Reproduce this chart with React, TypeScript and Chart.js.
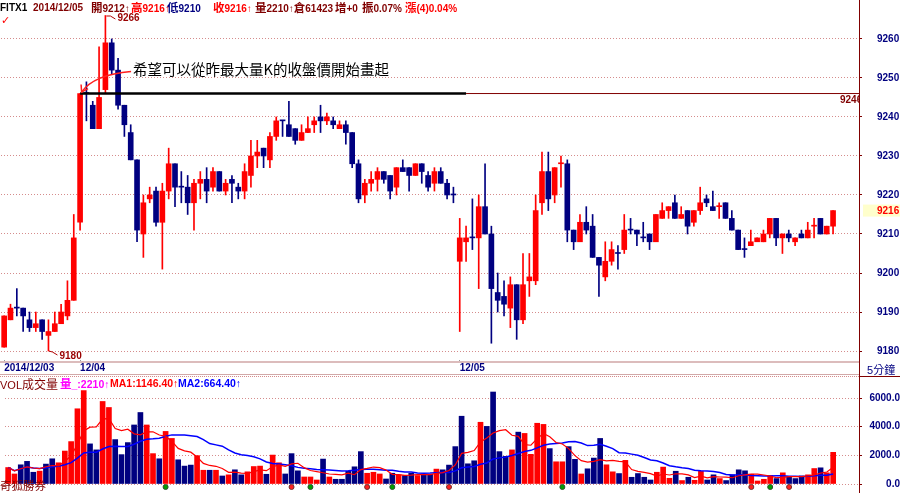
import React, { useEffect, useRef } from 'react';
import { Chart, registerables } from 'chart.js';

Chart.register(...registerables);

// ---------------- data ----------------
const dayStarts = [0, 12, 72];
const dayLabels = ['2014/12/03', '12/04', '12/05'];

const opens = [
  9181, 9188, 9191, 9191, 9188, 9186, 9188, 9184, 9185, 9187,
  9189, 9193, 9213, 9246, 9243, 9237, 9247, 9259, 9252, 9243,
  9236, 9229, 9210, 9219, 9221, 9213, 9221, 9228, 9222, 9222,
  9218, 9223, 9224, 9222, 9226, 9221, 9224, 9222, 9221, 9225,
  9230, 9232, 9229, 9235, 9239, 9238, 9237, 9234, 9236, 9238,
  9240, 9239, 9239, 9237, 9238, 9236, 9228, 9220, 9223, 9224,
  9226, 9225, 9222, 9227, 9227, 9225, 9228, 9225, 9223, 9226,
  9223, 9220, 9203, 9208, 9209, 9209, 9217, 9210, 9195, 9194,
  9191, 9197, 9188, 9198, 9198, 9218, 9226, 9220, 9228, 9228,
  9211, 9208, 9213, 9212, 9204, 9199, 9203, 9205, 9206, 9211,
  9211, 9209, 9210, 9208, 9214, 9216, 9218, 9214, 9216, 9213,
  9216, 9219, 9217, 9217, 9218, 9214, 9211, 9206, 9207, 9208,
  9208, 9210, 9214, 9209, 9210, 9208, 9210, 9209, 9212, 9214,
  9210, 9212,
];
const highs = [
  9189, 9192, 9196, 9191, 9190, 9190, 9188, 9188, 9190, 9192,
  9198, 9215, 9246, 9249, 9244, 9258, 9266, 9260, 9255, 9243,
  9238, 9229, 9220, 9222, 9222, 9223, 9232, 9228, 9226, 9225,
  9224, 9226, 9227, 9227, 9226, 9224, 9225, 9223, 9228, 9234,
  9234, 9232, 9236, 9240, 9239, 9244, 9237, 9238, 9240, 9240,
  9243, 9241, 9240, 9239, 9239, 9236, 9229, 9224, 9226, 9227,
  9226, 9225, 9227, 9229, 9227, 9228, 9228, 9226, 9227, 9227,
  9224, 9222, 9214, 9212, 9219, 9220, 9228, 9212, 9200, 9198,
  9199, 9197, 9205, 9205, 9220, 9231, 9231, 9227, 9230, 9229,
  9211, 9215, 9217, 9215, 9204, 9208, 9208, 9207, 9215, 9214,
  9211, 9213, 9210, 9215, 9218, 9217, 9220, 9217, 9216, 9216,
  9222, 9220, 9221, 9218, 9218, 9216, 9211, 9209, 9211, 9209,
  9211, 9214, 9214, 9210, 9211, 9209, 9211, 9213, 9214, 9214,
  9212, 9216,
];
const lows = [
  9181, 9188, 9189, 9185, 9185, 9185, 9183, 9180, 9185, 9187,
  9188, 9193, 9211, 9239, 9237, 9237, 9246, 9251, 9242, 9235,
  9229, 9208, 9204, 9218, 9212, 9201, 9219, 9217, 9218, 9215,
  9211, 9219, 9218, 9221, 9221, 9220, 9218, 9219, 9219, 9222,
  9227, 9227, 9227, 9234, 9235, 9235, 9233, 9234, 9236, 9236,
  9236, 9238, 9237, 9237, 9233, 9227, 9218, 9218, 9221, 9221,
  9223, 9219, 9220, 9226, 9221, 9225, 9223, 9221, 9221, 9223,
  9219, 9218, 9185, 9203, 9206, 9196, 9210, 9182, 9190, 9189,
  9186, 9183, 9187, 9194, 9197, 9215, 9216, 9218, 9222, 9208,
  9206, 9208, 9210, 9204, 9194, 9198, 9202, 9201, 9205, 9210,
  9207, 9208, 9206, 9208, 9214, 9214, 9214, 9214, 9210, 9212,
  9215, 9217, 9216, 9214, 9214, 9211, 9206, 9204, 9207, 9208,
  9208, 9209, 9207, 9205, 9208, 9207, 9209, 9209, 9209, 9210,
  9210, 9210,
];
const closes = [
  9189, 9191, 9191, 9189, 9186, 9187, 9185, 9185, 9187, 9190,
  9193, 9209, 9246, 9246, 9237, 9245, 9259, 9252, 9243, 9238,
  9229, 9211, 9218, 9220, 9213, 9221, 9228, 9222, 9222, 9218,
  9223, 9224, 9221, 9226, 9221, 9223, 9223, 9221, 9226, 9230,
  9231, 9230, 9235, 9239, 9239, 9235, 9234, 9236, 9237, 9239,
  9239, 9240, 9238, 9238, 9236, 9228, 9219, 9223, 9224, 9226,
  9224, 9221, 9227, 9226, 9225, 9228, 9226, 9222, 9226, 9223,
  9220, 9220, 9209, 9209, 9209, 9217, 9210, 9196, 9193, 9192,
  9197, 9188, 9197, 9199, 9216, 9226, 9219, 9227, 9228, 9211,
  9208, 9213, 9211, 9204, 9202, 9203, 9206, 9205, 9211, 9211,
  9210, 9209, 9208, 9215, 9216, 9217, 9214, 9215, 9212, 9216,
  9218, 9218, 9216, 9217, 9214, 9211, 9206, 9206, 9208, 9209,
  9210, 9214, 9209, 9210, 9209, 9209, 9209, 9211, 9212, 9210,
  9212, 9216,
];
const volumes = [
  1150, 700, 1340, 1580, 820, 900, 1390, 1760, 1480, 2300,
  2960, 5250, 6520, 2800, 2380, 5760, 5340, 3100, 2050, 2890,
  4120, 4990, 4120, 2120, 1760, 3670, 3180, 1690, 1250, 1320,
  1980, 960, 960, 960, 560, 640, 990, 640, 850, 1220,
  1250, 680, 2020, 1480, 700, 2120, 920, 490, 490, 280,
  1740, 490, 330, 330, 890, 1200, 2260, 750, 820, 700,
  350, 750, 640, 590, 750, 590, 680, 680, 1040, 990,
  1320, 2610, 4730, 1410, 1620, 4310, 4020, 6420, 2260, 1930,
  2380, 3620, 3530, 2070, 4240, 4160, 2470, 1550, 1550, 2610,
  1720, 700, 1060, 1810, 3180, 1340, 850, 730, 1650, 470,
  730, 470, 280, 820, 1180, 400, 890, 240, 470, 260,
  890, 280, 640, 380, 240, 640, 990, 920, 680, 210,
  330, 590, 380, 780, 490, 380, 560, 640, 1080, 1130,
  780, 2210,
];
const priceTicks = [9180, 9190, 9200, 9210, 9220, 9230, 9240, 9250, 9260];
const volTicks = [0, 2000, 4000, 6000];
const greenMarks = [25, 48, 61, 88, 121];
const redMarks = [45, 57, 70, 118, 124];
const annotText = '希望可以從昨最大量K的收盤價開始畫起';

// ---------------- layout constants ----------------
const X_MIN = -0.5;
const X_MAX = 135.1;
const Y_MIN = 9177.7;
const Y_MAX = 9266.9;
const V_MAX = 6700;
const UP = '#ff0000';
const DOWN = '#000080';
const DARKRED = '#800000';
const GRID = '#d58c8c';
const LATIN = '"Liberation Sans", Arial, "Noto Sans CJK TC", sans-serif';
const CJK = '"Noto Sans CJK TC", "Liberation Sans", sans-serif';

function movingAvg(vals: number[], n: number) {
  return vals.map((_, i) => {
    const s = Math.max(0, i - n + 1);
    let sum = 0;
    for (let k = s; k <= i; k++) sum += vals[k];
    return sum / (i - s + 1);
  });
}

const isCJK = (ch: string) => /[\u3000-\u9fff\uff00-\uffef]/.test(ch);

export default function App() {
  const priceRef = useRef<HTMLCanvasElement>(null);
  const volRef = useRef<HTMLCanvasElement>(null);

  useEffect(() => {
    const N = closes.length;
    const idx = closes.map((_, i) => i);
    const isUp = (i: number) =>
      closes[i] > opens[i] || (closes[i] === opens[i] && i > 0 && closes[i] > closes[i - 1]);
    const candleColors = idx.map((i) => (isUp(i) ? UP : DOWN));
    const volColors = idx.map((i) =>
      (i === 0 ? closes[0] > opens[0] : closes[i] > closes[i - 1]) ? UP : DOWN
    );

    // reference candle: largest volume of previous day (12/04)
    let refIdx = dayStarts[1];
    for (let i = dayStarts[1]; i < dayStarts[2]; i++) if (volumes[i] > volumes[refIdx]) refIdx = i;
    const refPrice = closes[refIdx];
    const refEnd = dayStarts[2] + 1;

    const annotPlugin = {
      id: 'annot',
      afterDraw(chart: any) {
        const { ctx, chartArea } = chart;
        const xs = chart.scales.x;
        const ys = chart.scales.y;
        ctx.save();
        ctx.textBaseline = 'middle';
        ctx.textAlign = 'left';
        // high label
        let hiIdx = 0;
        highs.forEach((h, i) => { if (h > highs[hiIdx]) hiIdx = i; });
        const hx = xs.getPixelForValue(hiIdx);
        const hy = ys.getPixelForValue(highs[hiIdx]);
        ctx.strokeStyle = '#b00000';
        ctx.lineWidth = 1;
        ctx.beginPath();
        ctx.moveTo(hx + 1, hy + 0.5);
        ctx.lineTo(hx + 5, hy + 0.5);
        ctx.lineTo(hx + 10, hy + 3.5);
        ctx.stroke();
        ctx.fillStyle = '#990000';
        ctx.font = `bold 10px ${LATIN}`;
        ctx.fillText(String(highs[hiIdx]), hx + 12, hy + 3);
        // low label
        let loIdx = 0;
        lows.forEach((l, i) => { if (l < lows[loIdx]) loIdx = i; });
        const lx = xs.getPixelForValue(loIdx);
        const ly = ys.getPixelForValue(lows[loIdx]);
        ctx.beginPath();
        ctx.moveTo(lx + 0.5, ly);
        ctx.lineTo(lx + 4, ly + 1);
        ctx.lineTo(lx + 9, ly + 4);
        ctx.stroke();
        ctx.fillText(String(lows[loIdx]), lx + 11, ly + 5);
        // reference line label (clipped at plot edge)
        const refX = xs.getPixelForValue(refIdx);
        const refY = ys.getPixelForValue(refPrice);
        ctx.save();
        ctx.beginPath();
        ctx.rect(chartArea.left, chartArea.top, chartArea.right - chartArea.left, chartArea.bottom - chartArea.top);
        ctx.clip();
        ctx.fillStyle = DARKRED;
        ctx.fillText(String(refPrice), chartArea.right - 19, refY + 7);
        ctx.restore();
        // annotation text + arrow
        ctx.fillStyle = '#000000';
        ctx.font = `14.5px ${CJK}`;
        ctx.fillText(annotText, refX + 53, refY - 24);
        ctx.strokeStyle = '#ff2020';
        ctx.lineWidth = 1.5;
        ctx.beginPath();
        ctx.moveTo(refX + 51, refY - 22);
        ctx.quadraticCurveTo(refX + 14, refY - 19, refX + 1.5, refY - 1.5);
        ctx.stroke();
        ctx.beginPath();
        ctx.moveTo(refX + 1, refY - 9);
        ctx.lineTo(refX + 1.5, refY - 1.5);
        ctx.lineTo(refX + 8, refY - 5);
        ctx.stroke();
        // current price marker on axis
        const last = closes[N - 1];
        const cy = ys.getPixelForValue(last);
        ctx.fillStyle = '#ffffcc';
        ctx.fillRect(chartArea.right + 4, cy - 6, 40, 12);
        ctx.fillStyle = UP;
        ctx.font = `bold 10px ${LATIN}`;
        ctx.fillText(String(last), chartArea.right + 18, cy + 0.5);
        ctx.restore();
      },
    };

    const pc = new Chart(priceRef.current as HTMLCanvasElement, {
      type: 'bar',
      data: {
        datasets: [
          {
            type: 'line',
            data: [{ x: refIdx, y: refPrice }, { x: refEnd, y: refPrice }],
            borderColor: '#000000',
            borderWidth: 2.5,
            pointRadius: 0,
          } as any,
          {
            type: 'line',
            data: [{ x: refEnd, y: refPrice }, { x: X_MAX, y: refPrice }],
            borderColor: DARKRED,
            borderWidth: 1,
            pointRadius: 0,
          } as any,
          {
            type: 'bar',
            data: idx.map((i) => ({ x: i, y: [opens[i], closes[i]] })),
            backgroundColor: candleColors,
            barThickness: 5,
            minBarLength: 1,
            grouped: false,
            borderWidth: 0,
          } as any,
          {
            type: 'bar',
            data: idx.map((i) => ({ x: i, y: [lows[i], highs[i]] })),
            backgroundColor: candleColors,
            barThickness: 1,
            grouped: false,
            borderWidth: 0,
          } as any,
        ],
      },
      options: {
        animation: false,
        responsive: false,
        devicePixelRatio: 1,
        layout: { padding: { top: 12, left: 1, right: 0, bottom: 0 } },
        plugins: { legend: { display: false }, tooltip: { enabled: false } },
        scales: {
          x: {
            type: 'linear',
            min: X_MIN,
            max: X_MAX,
            offset: false,
            position: 'bottom',
            afterBuildTicks: (s: any) => { s.ticks = dayStarts.map((v) => ({ value: v })); },
            afterFit: (s: any) => { s.height = 16; s.paddingLeft = 0; s.paddingRight = 0; },
            ticks: {
              autoSkip: false,
              maxRotation: 0,
              align: 'start',
              padding: -1,
              color: DOWN,
              font: { family: LATIN, size: 10, weight: 'bold' },
              callback: (v: any) => {
                const k = dayStarts.indexOf(Number(v));
                return k >= 0 ? dayLabels[k] : '';
              },
            },
            grid: { drawOnChartArea: false, offset: false, tickLength: 3, color: '#9a9a9a' },
            border: { display: false },
          },
          y: {
            type: 'linear',
            position: 'right',
            min: Y_MIN,
            max: Y_MAX,
            afterBuildTicks: (s: any) => { s.ticks = priceTicks.map((v) => ({ value: v })); },
            afterFit: (s: any) => { s.width = 41; s.paddingTop = 0; s.paddingBottom = 0; },
            ticks: {
              crossAlign: 'near',
              padding: 15,
              color: DOWN,
              font: { family: LATIN, size: 10, weight: 'bold' },
              callback: (v: any) => String(v),
            },
            grid: { color: GRID, tickLength: 3, tickColor: DARKRED },
            border: { display: false, dash: [1, 2] },
          },
        } as any,
      },
      plugins: [annotPlugin],
    } as any);

    const ma5 = movingAvg(volumes, 5);
    const ma20 = movingAvg(volumes, 20);

    const vc = new Chart(volRef.current as HTMLCanvasElement, {
      type: 'bar',
      data: {
        datasets: [
          {
            type: 'line',
            data: greenMarks.map((i) => ({ x: i, y: -210 })),
            showLine: false,
            pointRadius: 2.5,
            pointBackgroundColor: '#00a000',
            pointBorderColor: '#305030',
            pointBorderWidth: 1,
            clip: false,
          } as any,
          {
            type: 'line',
            data: redMarks.map((i) => ({ x: i, y: -210 })),
            showLine: false,
            pointRadius: 2.5,
            pointBackgroundColor: '#ff2020',
            pointBorderColor: '#703030',
            pointBorderWidth: 1,
            clip: false,
          } as any,
          {
            type: 'line',
            data: idx.map((i) => ({ x: i, y: ma5[i] })),
            borderColor: '#ff0000',
            borderWidth: 1.2,
            pointRadius: 0,
          } as any,
          {
            type: 'line',
            data: idx.map((i) => ({ x: i, y: ma20[i] })),
            borderColor: '#0000ff',
            borderWidth: 1.5,
            pointRadius: 0,
          } as any,
          {
            type: 'bar',
            data: idx.map((i) => ({ x: i, y: volumes[i] })),
            backgroundColor: volColors,
            barThickness: 5,
            grouped: false,
            borderWidth: 0,
          } as any,
        ],
      },
      options: {
        animation: false,
        responsive: false,
        devicePixelRatio: 1,
        layout: { padding: { top: 12, left: 1, right: 0, bottom: 9 } },
        plugins: { legend: { display: false }, tooltip: { enabled: false } },
        scales: {
          x: { type: 'linear', min: X_MIN, max: X_MAX, offset: false, display: false },
          y: {
            type: 'linear',
            position: 'right',
            min: 0,
            max: V_MAX,
            afterBuildTicks: (s: any) => { s.ticks = volTicks.map((v) => ({ value: v })); },
            afterFit: (s: any) => { s.width = 41; s.paddingTop = 0; s.paddingBottom = 0; },
            ticks: {
              crossAlign: 'far',
              padding: 2,
              color: DOWN,
              font: { family: LATIN, size: 10, weight: 'bold' },
              callback: (v: any) => Number(v).toFixed(1),
            },
            grid: { color: GRID, tickLength: 3, tickColor: DARKRED },
            border: { display: false, dash: [1, 2] },
          },
        } as any,
      },
    } as any);

    return () => {
      pc.destroy();
      vc.destroy();
    };
  }, []);

  // text run with CJK glyphs a little larger than the Latin glyphs
  const seg = (text: string, left: number, top: number, color: string, size = 10, cjkSize = 11.5, bold = true) => (
    <span
      style={{
        position: 'absolute', left, top, color, fontSize: size, lineHeight: '13px',
        fontWeight: bold ? 'bold' : 'normal', fontFamily: LATIN, whiteSpace: 'nowrap',
      }}
    >
      {Array.from(text).map((ch, k) =>
        isCJK(ch) ? (
          <span key={k} style={{ fontSize: cjkSize, fontFamily: CJK }}>{ch}</span>
        ) : (
          <React.Fragment key={k}>{ch}</React.Fragment>
        )
      )}
    </span>
  );

  return (
    <div
      style={{
        position: 'absolute', left: 0, top: 0, width: 900, height: 493,
        background: '#ffffff', overflow: 'hidden', fontFamily: LATIN,
      }}
    >
      <canvas ref={priceRef} width={900} height={376} style={{ position: 'absolute', left: 0, top: 0 }} />
      <canvas ref={volRef} width={900} height={117} style={{ position: 'absolute', left: 0, top: 376 }} />

      {/* axis frame */}
      <div style={{ position: 'absolute', left: 859, top: 0, width: 1, height: 493, background: DARKRED }} />
      <div style={{ position: 'absolute', left: 0, top: 361, width: 859, height: 11, borderTop: '2px solid #dcbcbc', borderBottom: '1px solid #d2a8a8' }} />
      <div style={{ position: 'absolute', left: 0, top: 376, width: 859, height: 0, borderTop: '1px dotted #d58c8c' }} />
      <div style={{ position: 'absolute', left: 859, top: 376, width: 41, height: 1, background: DARKRED }} />
      {seg('5分鐘', 867, 363, DOWN, 11, 11, false)}

      {/* header */}
      {seg('FITX1', 0, 1, '#000000')}
      {seg('2014/12/05', 33, 1, DARKRED)}
      {seg('開9212↑', 91, 1, DARKRED)}
      {seg('高9216↑', 131, 1, UP)}
      {seg('低9210', 167, 1, DOWN)}
      {seg('收9216↑', 213, 1, UP)}
      {seg('量2210↑倉61423', 255, 1, DARKRED)}
      {seg('增+0', 335, 1, DARKRED)}
      {seg('振0.07%', 362, 1, DARKRED)}
      {seg('漲(4)0.04%', 405, 1, UP)}
      <span style={{ position: 'absolute', left: 1, top: 14, color: UP, fontSize: 11, lineHeight: '13px', fontFamily: '"DejaVu Sans", sans-serif' }}>✓</span>

      {/* volume header */}
      {seg('VOL成交量', 0, 377, DARKRED, 11, 12, false)}
      {seg('量_:2210↑', 60, 377, '#ff00ff', 10.5, 11.5, true)}
      {seg('MA1:1146.40↑', 110, 377, '#ff0000', 10.5, 11.5, true)}
      {seg('MA2:664.40↑', 178, 377, '#0000ff', 10.5, 11.5, true)}
      {seg('奇狐勝券', 0, 479, DARKRED, 11.5, 11.5, false)}
    </div>
  );
}
